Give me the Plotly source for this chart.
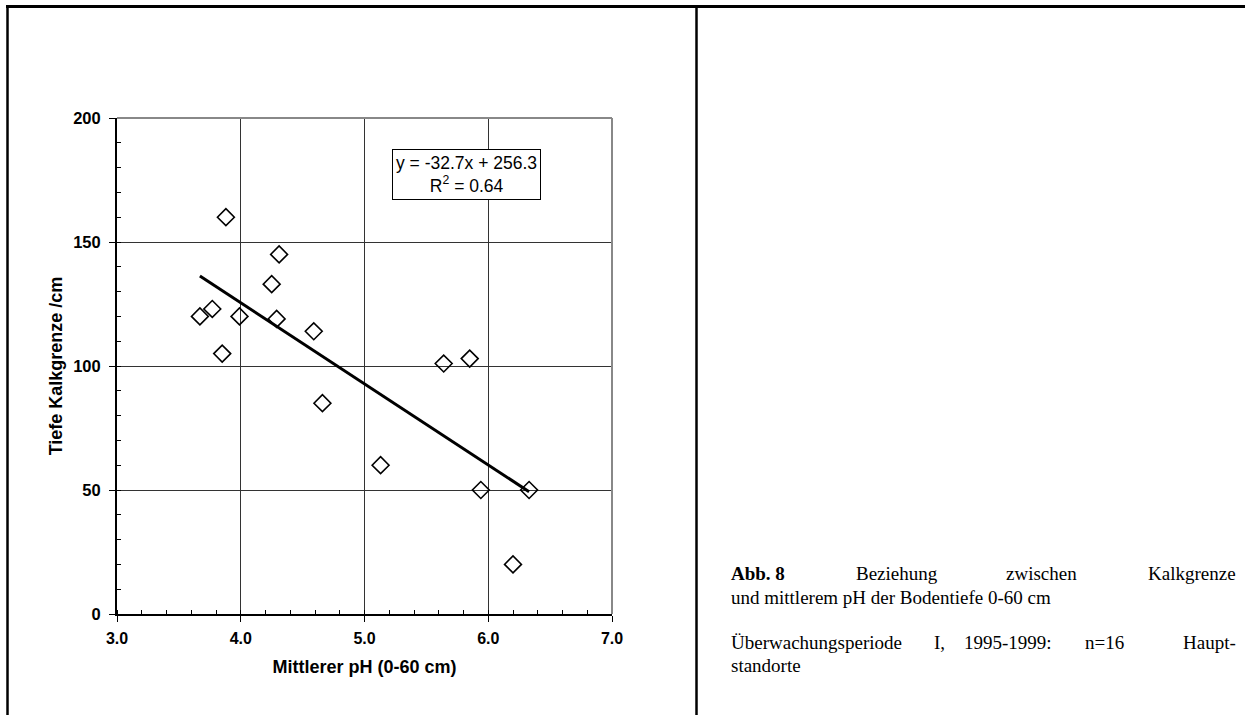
import plotly.graph_objects as go

# ---- data ----
ph = [3.67, 3.77, 3.85, 3.88, 3.99, 4.25, 4.29, 4.31, 4.59, 4.66, 5.13, 5.64, 5.85, 5.94, 6.20, 6.33]
depth = [120, 123, 105, 160, 120, 133, 119, 145, 114, 85, 60, 101, 103, 50, 20, 50]
slope = -32.7
intercept = 256.3
r_squared = 0.64
x_ticks = [3.0, 4.0, 5.0, 6.0, 7.0]
y_ticks = [0, 50, 100, 150, 200]

W, H = 1245, 715
L, R, T, B = 117, 612, 118, 614  # plot area in px


def px_x(p):
    return (p - L) / (R - L)


def px_y(p):
    return (B - p) / (B - T)


fig = go.Figure()

fig.add_trace(go.Scatter(
    x=ph, y=depth, mode="markers",
    marker=dict(symbol="diamond-open", size=13, color="black", line=dict(width=1.6, color="black")),
    showlegend=False, cliponaxis=False,
))

x_fit = [min(ph), max(ph)]
y_fit = [slope * v + intercept for v in x_fit]
fig.add_trace(go.Scatter(
    x=x_fit, y=y_fit, mode="lines",
    line=dict(color="black", width=3), showlegend=False,
))

sans = "Liberation Sans, Arial"
xtick_font = dict(family=sans, size=16, color="black", weight="bold")
ytick_font = dict(family=sans, size=16.5, color="black", weight="bold")
title_font = dict(family=sans, size=18, color="black", weight="bold")

fig.update_xaxes(
    range=[3, 7], tickvals=x_ticks, ticktext=[f"{v:.1f}" for v in x_ticks],
    showgrid=True, gridcolor="#333333", gridwidth=1, zeroline=False,
    showline=True, linecolor="black", linewidth=2,
    ticks="outside", ticklen=6, tickwidth=1, tickcolor="black",
    minor=dict(dtick=0.2, tick0=3, ticks="inside", ticklen=4, tickwidth=1, tickcolor="black", showgrid=False),
    tickfont=xtick_font, ticklabelstandoff=3,
    title=dict(text="Mittlerer pH (0-60 cm)", font=title_font, standoff=14),
)
fig.update_yaxes(
    range=[0, 200], tickvals=y_ticks, ticktext=[str(v) for v in y_ticks],
    showgrid=True, gridcolor="#333333", gridwidth=1, zeroline=False,
    showline=True, linecolor="black", linewidth=2,
    ticks="outside", ticklen=6, tickwidth=1, tickcolor="black",
    minor=dict(dtick=10, tick0=0, ticks="inside", ticklen=4, tickwidth=1, tickcolor="black", showgrid=False),
    tickfont=ytick_font, ticklabelstandoff=5,
    title=dict(text="Tiefe Kalkgrenze /cm", font=title_font, standoff=6),
)

shapes = [
    # top/right plot frame (gray)
    dict(type="line", xref="paper", yref="paper", x0=0, x1=1, y0=1, y1=1, line=dict(color="#888888", width=2)),
    dict(type="line", xref="paper", yref="paper", x0=1, x1=1, y0=0, y1=1, line=dict(color="#888888", width=2)),
    # page frame
    dict(type="line", xref="paper", yref="paper", x0=px_x(6), x1=px_x(1250), y0=px_y(6.5), y1=px_y(6.5),
         line=dict(color="black", width=3)),
    dict(type="line", xref="paper", yref="paper", x0=px_x(7.5), x1=px_x(7.5), y0=px_y(5), y1=px_y(720),
         line=dict(color="black", width=2.5)),
    dict(type="line", xref="paper", yref="paper", x0=px_x(696.5), x1=px_x(696.5), y0=px_y(5), y1=px_y(720),
         line=dict(color="black", width=2.5)),
]

annotations = [
    dict(xref="paper", yref="paper", x=px_x(466), y=px_y(175), xanchor="center", yanchor="middle",
         text=f"y = {slope}x + {intercept}<br>R<sup>2</sup> = {r_squared}", showarrow=False,
         font=dict(family=sans, size=17.5, color="black"),
         bordercolor="black", borderwidth=1, borderpad=3, bgcolor="white", align="center"),
]

serif = "Liberation Serif, Times New Roman"
cap_size = 19


def word(text, xpx, ypx, anchor="left", bold=False):
    return dict(xref="paper", yref="paper", x=px_x(xpx), y=px_y(ypx), xanchor=anchor, yanchor="middle",
                text=f"<b>{text}</b>" if bold else text, showarrow=False,
                font=dict(family=serif, size=cap_size, color="black"))


annotations += [
    word("Abb. 8", 729, 573, bold=True),
    word("Beziehung", 854, 573),
    word("zwischen", 1004, 573),
    word("Kalkgrenze", 1238, 573, anchor="right"),
    word("und mittlerem pH der Bodentiefe 0-60 cm", 729, 597),
    word("Überwachungsperiode", 729, 642),
    word("I,", 932, 642),
    word("1995-1999:", 962, 642),
    word("n=16", 1083, 642),
    word("Haupt-", 1238, 642, anchor="right"),
    word("standorte", 729, 665),
]

fig.update_layout(
    width=W, height=H,
    margin=dict(l=L, r=W - R, t=T, b=H - B, pad=0),
    paper_bgcolor="white", plot_bgcolor="white",
    shapes=shapes, annotations=annotations,
    showlegend=False,
)

fig.write_html("out.html")
